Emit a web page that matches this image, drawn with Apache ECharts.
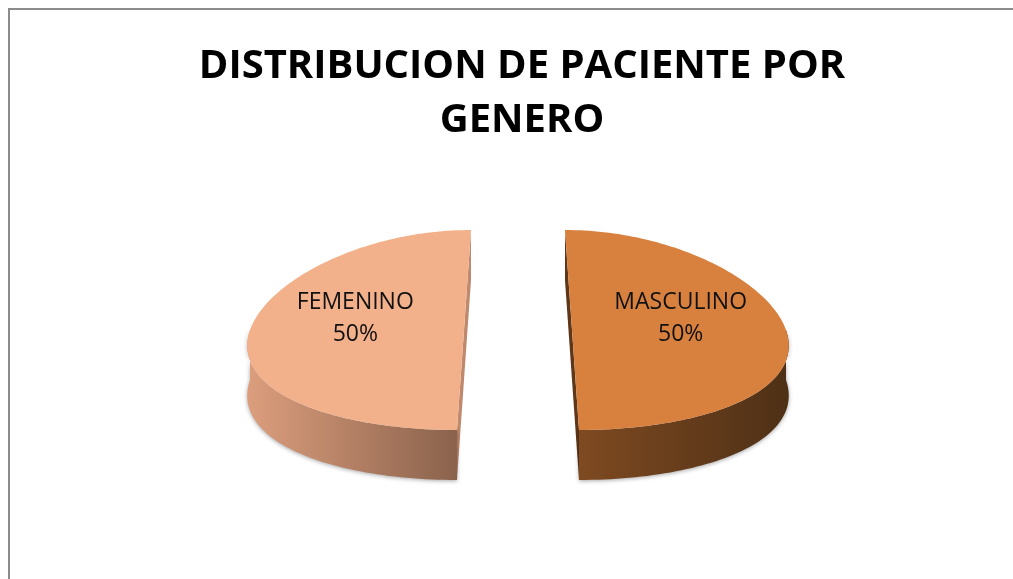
<!DOCTYPE html>
<html>
<head>
<meta charset="utf-8">
<script src="https://cdn.jsdelivr.net/npm/echarts@6/dist/echarts.min.js"></script>
<style>
  html, body { margin: 0; padding: 0; background: #fff; overflow: hidden; }
  #marco { position: absolute; left: 8px; top: 8px; width: 1100px; height: 700px;
           border-left: 2px solid #8c8c8c; border-top: 2px solid #8c8c8c; }
  #chart { position: absolute; left: 0; top: 0; width: 1013px; height: 579px; }
</style>
</head>
<body>
<div id="marco"></div>
<div id="chart"></div>
<script>
// datos
const categorias = ['FEMENINO', 'MASCULINO']
const valores = [50, 50]

// colores de cada porcion: tapa, lateral (izq -> der), corte
const colorTapa = ['#F3B18B', '#D8813F']
const colorLado = [['#DC9E7D', '#8A624C'], ['#7E4A21', '#4E3016']]
const colorCorte = ['#BE896C', '#5E3618']

// geometria del pastel 3D
const L = { cx: 518, cy: 330, rx: 214, ry: 100, depth: 50, explode: 54, persp: 0.13 }

const total = valores.reduce((a, b) => a + b, 0)
const inicio = []
valores.reduce((acc, v, i) => { inicio[i] = acc; return acc + v }, 0)

function renderItem (params, api) {
  const i = params.dataIndex
  const v = api.value(0)
  const acc = api.value(1)
  const a0 = -Math.PI / 2 - acc / total * Math.PI * 2
  const a1 = a0 - v / total * Math.PI * 2
  const mid = (a0 + a1) / 2
  const ox = L.explode * Math.cos(mid)
  const oy = L.explode * Math.sin(mid) * L.ry / L.rx
  // proyeccion con un poco de perspectiva
  const P = (x, y, d) => [L.cx + x * (1 + L.persp * y / L.ry), L.cy + y + (d || 0)]

  const N = 120
  const arco = []
  for (let k = 0; k <= N; k++) {
    const t = a0 + (a1 - a0) * k / N
    arco.push([ox + L.rx * Math.cos(t), oy + L.ry * Math.sin(t), t])
  }
  const tapa = [P(ox, oy)].concat(arco.map(p => P(p[0], p[1])))
  const frente = arco.filter(p => Math.sin(p[2]) >= -0.01)
  const lado = frente.map(p => P(p[0], p[1])).concat(frente.slice().reverse().map(p => P(p[0], p[1], L.depth)))

  const children = []
  ;[a0, a1].forEach(t => {
    const rx = ox + L.rx * Math.cos(t)
    const ry = oy + L.ry * Math.sin(t)
    children.push({
      type: 'polygon',
      shape: { points: [P(ox, oy), P(rx, ry), P(rx, ry, L.depth), P(ox, oy, L.depth)] },
      style: { fill: colorCorte[i] }
    })
  })
  if (frente.length > 1) {
    children.push({
      type: 'polygon',
      shape: { points: lado },
      style: {
        fill: {
          type: 'linear', x: 0, y: 0, x2: 1, y2: 0,
          colorStops: [{ offset: 0, color: colorLado[i][0] }, { offset: 1, color: colorLado[i][1] }]
        },
        shadowBlur: 4,
        shadowColor: 'rgba(0,0,0,0.35)',
        shadowOffsetY: 1
      }
    })
  }
  children.push({
    type: 'polygon',
    shape: { points: tapa },
    style: { fill: colorTapa[i] }
  })
  const pos = P(ox + 0.52 * L.rx * Math.cos(mid), oy + 0.52 * L.ry * Math.sin(mid) - 12)
  children.push({
    type: 'text',
    x: pos[0],
    y: pos[1],
    style: {
      text: categorias[i] + '\n' + Math.round(v / total * 100) + '%',
      fontSize: 23,
      fontFamily: 'Open Sans',
      fill: '#111',
      align: 'center',
      verticalAlign: 'middle',
      lineHeight: 32
    }
  })
  return { type: 'group', children: children }
}

const chart = echarts.init(document.getElementById('chart'))
chart.setOption({
  animation: false,
  title: {
    text: 'DISTRIBUCION DE PACIENTE POR\nGENERO',
    left: 517,
    top: 35,
    textAlign: 'center',
    textStyle: {
      fontSize: 40,
      fontWeight: 'bold',
      fontFamily: 'Open Sans',
      color: '#000',
      lineHeight: 54
    }
  },
  series: [{
    type: 'custom',
    coordinateSystem: 'none',
    renderItem: renderItem,
    data: valores.map((v, i) => ({ name: categorias[i], value: [v, inicio[i]] }))
  }]
})
</script>
</body>
</html>
